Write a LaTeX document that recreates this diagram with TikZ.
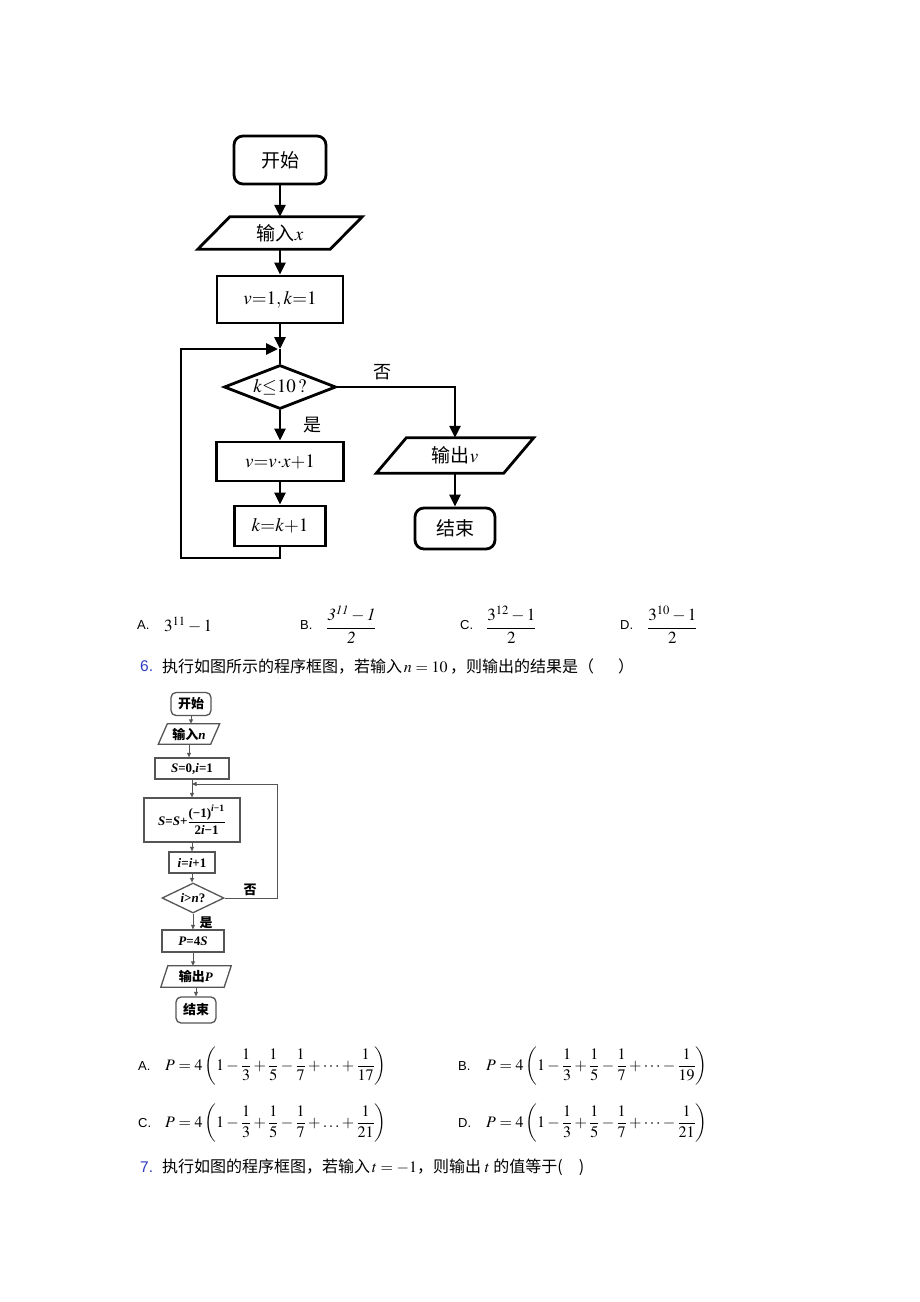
\documentclass[tikz,border=0pt]{standalone}
\usepackage{amsmath}
\usepackage{mathptmx}
\usepackage{fontspec}
\setmainfont{Liberation Serif}
\newfontfamily\cjk{Noto Sans CJK SC}
\newfontfamily\labfont{Liberation Sans}
\usetikzlibrary{arrows.meta,shapes.geometric,calc}
\definecolor{qblue}{RGB}{45,60,190}
\definecolor{sgray}{RGB}{85,85,85}
\newcommand\drawpara[3]{\draw[#3] ([xshift=#2]#1.north west) -- ([xshift=#2]#1.north east) -- ([xshift=-#2]#1.south east) -- ([xshift=-#2]#1.south west) -- cycle;}
\newcommand\bi[1]{\textnormal{\bfseries\itshape #1}}
\begin{document}
\begin{tikzpicture}[x=1pt,y=-1pt,
  bigfont/.style={font=\fontsize{19}{22}\selectfont},
  bigbox/.style={draw=black,line width=2.8pt,inner sep=0pt,bigfont},
  bigbr/.style={bigbox,rounded corners=9pt},
  bigline/.style={line width=2.8pt,line join=miter},
  bigarr/.style={bigline,-{Triangle[length=12pt,width=11pt]}},
  sfont/.style={font=\fontsize{13}{15}\selectfont\bfseries},
  sbox/.style={draw=sgray,line width=1.3pt,inner sep=0pt,sfont},
  sbr/.style={sbox,rounded corners=5pt},
  sline/.style={draw=sgray,line width=0.9pt},
  sarr/.style={sline,-{Triangle[length=4.5pt,width=4pt]}},
  lab/.style={font=\labfont\fontsize{13}{15}\selectfont,inner sep=0pt},
  amath/.style={font=\fontsize{17}{20}\selectfont,inner sep=0pt},
  pmath/.style={font=\fontsize{16}{19}\selectfont,inner sep=0pt},
  qtext/.style={font=\cjk\fontsize{16}{19}\selectfont,inner sep=0pt},
  qnum/.style={font=\labfont\fontsize{15.5}{18}\selectfont,text=qblue,inner sep=0pt}
]
\fill[white] (0,0) rectangle (920,1302);
\useasboundingbox (0,0) rectangle (920,1302);

% ---------------- top flowchart ----------------
\node[bigbr,minimum width=92,minimum height=48] (start) at (280,160) {\cjk 开始};
\node[minimum width=132,minimum height=32,inner sep=0pt,bigfont] (in) at (280,233) {\cjk 输入$x$};
\drawpara{in}{16}{bigline}
\node[bigbox,minimum width=126,minimum height=47] (init) at (280,299.5) {$v{=}1,k{=}1$};
\coordinate (J) at (280,349);
\node[diamond,draw,line width=2.8pt,minimum width=112,minimum height=44,inner sep=0pt,aspect=2.5,bigfont] (dec) at (280,387) {$k{\leq}10\,?$};
\node[bigbox,minimum width=127,minimum height=39] (body) at (280,461.5) {$v{=}v{\cdot}x{+}1$};
\node[bigbox,minimum width=91,minimum height=40] (inc) at (280,526) {$k{=}k{+}1$};
\node[minimum width=127,minimum height=35,inner sep=0pt,bigfont] (out) at (455,455.5) {\cjk 输出$v$};
\drawpara{out}{15}{bigline}
\node[bigbr,minimum width=80,minimum height=41] (end) at (455,528.5) {\cjk 结束};
\node[font=\cjk\fontsize{18}{20}\selectfont,inner sep=0pt] (no1) at (382,372) {否};
\node[font=\cjk\fontsize{18}{20}\selectfont,inner sep=0pt] (yes1) at (312,425) {是};
\coordinate (lb) at (181,558);

\draw[bigarr] (start.south) -- (in.north);
\draw[bigarr] (in.south) -- (init.north);
\draw[bigarr] (init.south) -- (J);
\draw[bigline] (J) -- (dec.north);
\draw[bigarr] (dec.south) -- (body.north);
\draw[bigarr] (body.south) -- (inc.north);
\draw[bigarr,shorten >=2pt] (inc.south) |- (lb) |- (J);
\draw[bigarr] (dec.east) -| (out.north);
\draw[bigarr] (out.south) -- (end.north);

% ---------------- answers Q5 ----------------
\node[lab,anchor=west] (a5A) at (137,625) {A.};
\node[amath,anchor=west] (a5Ax) at (164,625) {$3^{11}-1$};
\node[lab,anchor=west] (a5B) at (300,625) {B.};
\node[amath,anchor=west] (a5Bx) at (326,625) {$\dfrac{\mathit{3}^{\mathit{11}}-\mathit{1}}{\mathit{2}}$};
\node[lab,anchor=west] (a5C) at (460,625) {C.};
\node[amath,anchor=west] (a5Cx) at (486,625) {$\dfrac{3^{12}-1}{2}$};
\node[lab,anchor=west] (a5D) at (620,625) {D.};
\node[amath,anchor=west] (a5Dx) at (647,625) {$\dfrac{3^{10}-1}{2}$};

% ---------------- question 6 ----------------
\node[qnum,anchor=west] (q6n) at (140,666) {6.};
\node[qtext,anchor=west] (q6t) at (162,666) {执行如图所示的程序框图，若输入$\,n=10$\,，则输出的结果是（\quad\; ）};

% ---------------- small flowchart ----------------
\node[sbr,minimum width=40,minimum height=23] (sstart) at (191,704) {\cjk\bfseries 开始};
\node[minimum width=52,minimum height=20,inner sep=0pt,sfont] (sin) at (189,734) {{\cjk\bfseries 输入}\bi{n}};
\drawpara{sin}{4.5}{sbox}
\node[sbox,minimum width=74,minimum height=21] (sinit) at (192,768.5) {\bi{S}=0,\bi{i}=1};
\coordinate (SJ) at (192,784);
\node[sbox,minimum width=96,minimum height=44] (ssum) at (192,820) {\bi{S}=\bi{S}+$\dfrac{\textbf{(−1)}^{\bi{i}\textbf{−1}}}{\textbf{2}\bi{i}\textbf{−1}}$};
\node[sbox,minimum width=46,minimum height=21] (sinc) at (192,862.5) {\bi{i}=\bi{i}+1};
\node[diamond,draw=sgray,line width=1.3pt,minimum width=62,minimum height=30,inner sep=0pt,aspect=2,sfont] (sdec) at (193,898) {\bi{i}>\bi{n}?};
\node[font=\cjk\fontsize{13}{15}\selectfont\bfseries,inner sep=0pt] (sno) at (250,890) {否};
\node[font=\cjk\fontsize{13}{15}\selectfont\bfseries,inner sep=0pt] (syes) at (206,923) {是};
\node[sbox,minimum width=62,minimum height=22] (sP) at (193,941) {\bi{P}=4\bi{S}};
\node[minimum width=63,minimum height=21,inner sep=0pt,sfont] (sout) at (196,976.5) {{\cjk\bfseries 输出}\bi{P}};
\drawpara{sout}{3.5}{sbox}
\node[sbr,minimum width=40,minimum height=26] (send) at (196,1010) {\cjk\bfseries 结束};
\coordinate (sR) at (277,784);

\draw[sarr] (sstart.south) -- (sstart.south |- sin.north);
\draw[sarr] (sin.south) -- (sin.south |- sinit.north);
\draw[sarr] (sinit.south) -- (ssum.north);
\draw[sarr] (ssum.south) -- (sinc.north);
\draw[sarr] (sinc.south) -- (sinc.south |- sdec.north);
\draw[sarr] (sdec.east) -| (sR) -- (SJ);
\draw[sarr] (sdec.south) -- (sdec.south |- sP.north);
\draw[sarr] (sP.south) -- (sP.south |- sout.north);
\draw[sarr] (sout.south) -- (send.north);

% ---------------- answers Q6 ----------------
\node[lab,anchor=west] (a6A) at (138,1066) {A.};
\node[pmath,anchor=west] (a6Ax) at (165,1066) {$P=4\left(1-\dfrac13+\dfrac15-\dfrac17+\cdots+\dfrac1{17}\right)$};
\node[lab,anchor=west] (a6B) at (458,1066) {B.};
\node[pmath,anchor=west] (a6Bx) at (486,1066) {$P=4\left(1-\dfrac13+\dfrac15-\dfrac17+\cdots-\dfrac1{19}\right)$};
\node[lab,anchor=west] (a6C) at (138,1123) {C.};
\node[pmath,anchor=west] (a6Cx) at (165,1123) {$P=4\left(1-\dfrac13+\dfrac15-\dfrac17+\ldots+\dfrac1{21}\right)$};
\node[lab,anchor=west] (a6D) at (458,1123) {D.};
\node[pmath,anchor=west] (a6Dx) at (486,1123) {$P=4\left(1-\dfrac13+\dfrac15-\dfrac17+\cdots-\dfrac1{21}\right)$};

% ---------------- question 7 ----------------
\node[qnum,anchor=west] (q7n) at (140,1167) {7.};
\node[qtext,anchor=west] (q7t) at (162,1167) {执行如图的程序框图，若输入$\,t=-1$，则输出 $t$ 的值等于(\quad )};
\end{tikzpicture}
\end{document}
